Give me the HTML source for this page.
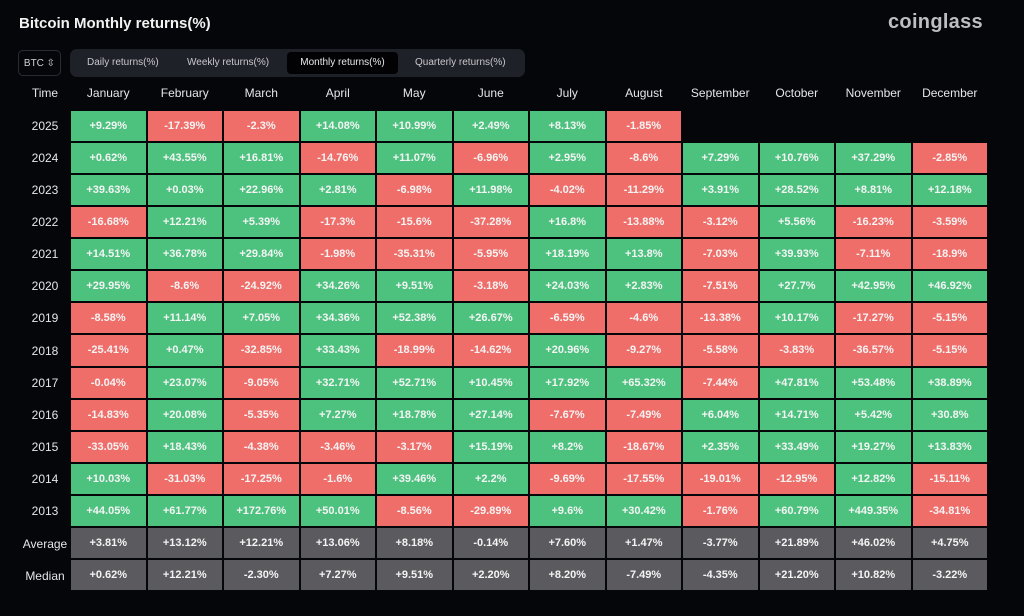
<!DOCTYPE html>
<html><head><meta charset="utf-8"><style>
body{margin:0;width:1024px;height:616px;background:#05060a;font-family:"Liberation Sans",sans-serif;color:#e8e8ea;position:relative;overflow:hidden}
.t{position:absolute;left:19px;top:15px;font-size:15px;font-weight:bold;color:#f2f2f2}
.logo{position:absolute;left:888px;top:11px;font-size:20px;font-weight:bold;color:#bdbdc2;letter-spacing:0.3px}
.btc{position:absolute;left:18px;top:50px;width:43px;height:26px;border:1px solid #2a2c33;border-radius:5px;font-size:10px;line-height:26px;text-align:center;color:#d0d0d4;box-sizing:border-box}
.tabs{position:absolute;left:70px;top:49px;width:455px;height:28px;background:#1f2128;border-radius:7px}
.tab{position:absolute;top:3px;height:22px;line-height:22px;font-size:10px;color:#c8c8cc}
.act{background:#020204;border-radius:4px;color:#e8e8ea}
.hdr{position:absolute;top:86px;font-size:12px;width:76.5px;text-align:center;color:#e6e6e8}
.grid{position:absolute;left:70px;top:110px;display:grid;grid-template-columns:repeat(12,76.5px);grid-auto-rows:32.07px}
.grid div{box-sizing:border-box;border:1px solid #05060a;font-size:11px;font-weight:bold;text-align:center;line-height:30px;color:#f4f4f4}
.g{background:#4dc27f}.r{background:#f06e6a}.a{background:#5a5a5f}.e{background:transparent}
.yl{position:absolute;left:20px;width:50px;text-align:center;font-size:12px;color:#e6e6e8}
</style></head><body>
<div class="t">Bitcoin Monthly returns(%)</div>
<div class="logo">coinglass</div>
<div class="btc">BTC ⇳</div>
<div class="tabs">
<div class="tab" style="left:17px">Daily returns(%)</div>
<div class="tab" style="left:117px">Weekly returns(%)</div>
<div class="tab act" style="left:217px;width:111px;text-align:center">Monthly returns(%)</div>
<div class="tab" style="left:345px">Quarterly returns(%)</div>
</div>
<div class="hdr" style="left:8px;width:74px">Time</div>
<div class="hdr" style="left:70px">January</div><div class="hdr" style="left:146.5px">February</div><div class="hdr" style="left:223px">March</div><div class="hdr" style="left:299.5px">April</div><div class="hdr" style="left:376px">May</div><div class="hdr" style="left:452.5px">June</div><div class="hdr" style="left:529px">July</div><div class="hdr" style="left:605.5px">August</div><div class="hdr" style="left:682px">September</div><div class="hdr" style="left:758.5px">October</div><div class="hdr" style="left:835px">November</div><div class="hdr" style="left:911.5px">December</div>
<div class="yl" style="top:119px">2025</div><div class="yl" style="top:151px">2024</div><div class="yl" style="top:183px">2023</div><div class="yl" style="top:215px">2022</div><div class="yl" style="top:247px">2021</div><div class="yl" style="top:279px">2020</div><div class="yl" style="top:311px">2019</div><div class="yl" style="top:344px">2018</div><div class="yl" style="top:376px">2017</div><div class="yl" style="top:408px">2016</div><div class="yl" style="top:440px">2015</div><div class="yl" style="top:472px">2014</div><div class="yl" style="top:504px">2013</div><div class="yl" style="top:537px;left:14px;width:62px">Average</div><div class="yl" style="top:569px;left:14px;width:62px">Median</div>
<div class="grid">
<div class="g">+9.29%</div><div class="r">-17.39%</div><div class="r">-2.3%</div><div class="g">+14.08%</div><div class="g">+10.99%</div><div class="g">+2.49%</div><div class="g">+8.13%</div><div class="r">-1.85%</div><div class="e"></div><div class="e"></div><div class="e"></div><div class="e"></div>
<div class="g">+0.62%</div><div class="g">+43.55%</div><div class="g">+16.81%</div><div class="r">-14.76%</div><div class="g">+11.07%</div><div class="r">-6.96%</div><div class="g">+2.95%</div><div class="r">-8.6%</div><div class="g">+7.29%</div><div class="g">+10.76%</div><div class="g">+37.29%</div><div class="r">-2.85%</div>
<div class="g">+39.63%</div><div class="g">+0.03%</div><div class="g">+22.96%</div><div class="g">+2.81%</div><div class="r">-6.98%</div><div class="g">+11.98%</div><div class="r">-4.02%</div><div class="r">-11.29%</div><div class="g">+3.91%</div><div class="g">+28.52%</div><div class="g">+8.81%</div><div class="g">+12.18%</div>
<div class="r">-16.68%</div><div class="g">+12.21%</div><div class="g">+5.39%</div><div class="r">-17.3%</div><div class="r">-15.6%</div><div class="r">-37.28%</div><div class="g">+16.8%</div><div class="r">-13.88%</div><div class="r">-3.12%</div><div class="g">+5.56%</div><div class="r">-16.23%</div><div class="r">-3.59%</div>
<div class="g">+14.51%</div><div class="g">+36.78%</div><div class="g">+29.84%</div><div class="r">-1.98%</div><div class="r">-35.31%</div><div class="r">-5.95%</div><div class="g">+18.19%</div><div class="g">+13.8%</div><div class="r">-7.03%</div><div class="g">+39.93%</div><div class="r">-7.11%</div><div class="r">-18.9%</div>
<div class="g">+29.95%</div><div class="r">-8.6%</div><div class="r">-24.92%</div><div class="g">+34.26%</div><div class="g">+9.51%</div><div class="r">-3.18%</div><div class="g">+24.03%</div><div class="g">+2.83%</div><div class="r">-7.51%</div><div class="g">+27.7%</div><div class="g">+42.95%</div><div class="g">+46.92%</div>
<div class="r">-8.58%</div><div class="g">+11.14%</div><div class="g">+7.05%</div><div class="g">+34.36%</div><div class="g">+52.38%</div><div class="g">+26.67%</div><div class="r">-6.59%</div><div class="r">-4.6%</div><div class="r">-13.38%</div><div class="g">+10.17%</div><div class="r">-17.27%</div><div class="r">-5.15%</div>
<div class="r">-25.41%</div><div class="g">+0.47%</div><div class="r">-32.85%</div><div class="g">+33.43%</div><div class="r">-18.99%</div><div class="r">-14.62%</div><div class="g">+20.96%</div><div class="r">-9.27%</div><div class="r">-5.58%</div><div class="r">-3.83%</div><div class="r">-36.57%</div><div class="r">-5.15%</div>
<div class="r">-0.04%</div><div class="g">+23.07%</div><div class="r">-9.05%</div><div class="g">+32.71%</div><div class="g">+52.71%</div><div class="g">+10.45%</div><div class="g">+17.92%</div><div class="g">+65.32%</div><div class="r">-7.44%</div><div class="g">+47.81%</div><div class="g">+53.48%</div><div class="g">+38.89%</div>
<div class="r">-14.83%</div><div class="g">+20.08%</div><div class="r">-5.35%</div><div class="g">+7.27%</div><div class="g">+18.78%</div><div class="g">+27.14%</div><div class="r">-7.67%</div><div class="r">-7.49%</div><div class="g">+6.04%</div><div class="g">+14.71%</div><div class="g">+5.42%</div><div class="g">+30.8%</div>
<div class="r">-33.05%</div><div class="g">+18.43%</div><div class="r">-4.38%</div><div class="r">-3.46%</div><div class="r">-3.17%</div><div class="g">+15.19%</div><div class="g">+8.2%</div><div class="r">-18.67%</div><div class="g">+2.35%</div><div class="g">+33.49%</div><div class="g">+19.27%</div><div class="g">+13.83%</div>
<div class="g">+10.03%</div><div class="r">-31.03%</div><div class="r">-17.25%</div><div class="r">-1.6%</div><div class="g">+39.46%</div><div class="g">+2.2%</div><div class="r">-9.69%</div><div class="r">-17.55%</div><div class="r">-19.01%</div><div class="r">-12.95%</div><div class="g">+12.82%</div><div class="r">-15.11%</div>
<div class="g">+44.05%</div><div class="g">+61.77%</div><div class="g">+172.76%</div><div class="g">+50.01%</div><div class="r">-8.56%</div><div class="r">-29.89%</div><div class="g">+9.6%</div><div class="g">+30.42%</div><div class="r">-1.76%</div><div class="g">+60.79%</div><div class="g">+449.35%</div><div class="r">-34.81%</div>
<div class="a">+3.81%</div><div class="a">+13.12%</div><div class="a">+12.21%</div><div class="a">+13.06%</div><div class="a">+8.18%</div><div class="a">-0.14%</div><div class="a">+7.60%</div><div class="a">+1.47%</div><div class="a">-3.77%</div><div class="a">+21.89%</div><div class="a">+46.02%</div><div class="a">+4.75%</div>
<div class="a">+0.62%</div><div class="a">+12.21%</div><div class="a">-2.30%</div><div class="a">+7.27%</div><div class="a">+9.51%</div><div class="a">+2.20%</div><div class="a">+8.20%</div><div class="a">-7.49%</div><div class="a">-4.35%</div><div class="a">+21.20%</div><div class="a">+10.82%</div><div class="a">-3.22%</div>
</div>
</body></html>
